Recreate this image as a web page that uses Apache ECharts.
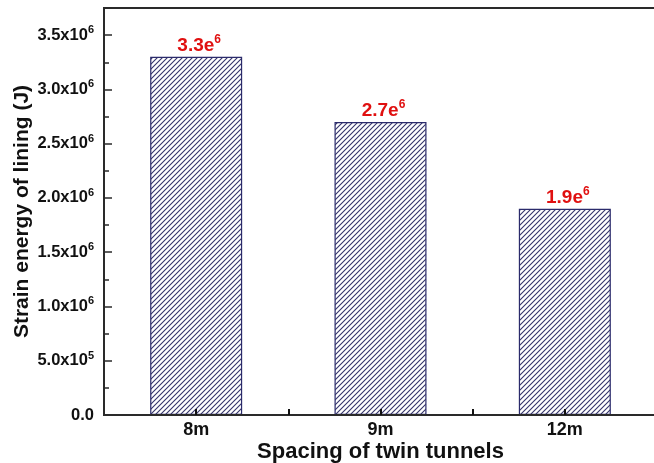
<!DOCTYPE html>
<html>
<head>
<meta charset="utf-8">
<script src="https://cdn.jsdelivr.net/npm/echarts@6/dist/echarts.min.js"></script>
<style>html,body{margin:0;padding:0;background:#fff;}#c{width:654px;height:463px;}</style>
</head>
<body>
<div id="c"></div>
<script>
const categories = ['8m', '9m', '12m'];
const values = [3.3e6, 2.7e6, 1.9e6];
const barLabels = ['3.3', '2.7', '1.9'];
const barLabelExp = '6';
const yTickLabels = {
  0: ['0.0', ''],
  500000: ['5.0x10', '5'],
  1000000: ['1.0x10', '6'],
  1500000: ['1.5x10', '6'],
  2000000: ['2.0x10', '6'],
  2500000: ['2.5x10', '6'],
  3000000: ['3.0x10', '6'],
  3500000: ['3.5x10', '6']
};

// hatch pattern
const tile = document.createElement('canvas');
tile.width = 5; tile.height = 5;
const g = tile.getContext('2d');
g.fillStyle = '#ffffff'; g.fillRect(0, 0, 5, 5);
g.strokeStyle = '#34346a'; g.lineWidth = 1.1;
g.beginPath();
g.moveTo(0, 5); g.lineTo(5, 0);
g.moveTo(-1, 1); g.lineTo(1, -1);
g.moveTo(4, 6); g.lineTo(6, 4);
g.stroke();

const chart = echarts.init(document.getElementById('c'), null, {renderer: 'canvas'});
const font = 'Liberation Sans, Arial, sans-serif';
chart.setOption({
  animation: false,
  grid: {left: 104, right: -3, top: 8, bottom: 48, outerBoundsMode: 'none', containLabel: false,
         show: true, borderColor: '#2a2a2a', borderWidth: 2, backgroundColor: 'transparent'},
  xAxis: {
    type: 'value', min: 0.5, max: 3.5, interval: 0.5, z: 10, zlevel: 1,
    name: 'Spacing of twin tunnels', nameLocation: 'middle', nameGap: 26, nameMoveOverlap: false,
    nameTextStyle: {fontFamily: font, fontWeight: 'bold', fontSize: 22, color: '#111'},
    axisLine: {show: true, lineStyle: {color: '#2a2a2a', width: 2}},
    axisTick: {show: true, inside: true, length: 6, lineStyle: {color: '#111', width: 2}},
    splitLine: {show: false},
    axisLabel: {
      fontFamily: font, fontWeight: 'bold', fontSize: 18, color: '#111', margin: 6,
      showMinLabel: false, showMaxLabel: false,
      formatter: function (v) {
        const i = Math.round(v) - 1;
        return (Math.abs(v - Math.round(v)) < 1e-6 && categories[i]) ? categories[i] : '';
      }
    }
  },
  yAxis: {
    type: 'value', min: 0, max: 3750000, interval: 500000,
    name: 'Strain energy of lining (J)', nameLocation: 'middle', nameGap: 71, nameMoveOverlap: false,
    nameTextStyle: {fontFamily: font, fontWeight: 'bold', fontSize: 21, color: '#111'},
    axisLine: {show: true, lineStyle: {color: '#2a2a2a', width: 2}},
    axisTick: {show: true, inside: true, length: 8, lineStyle: {color: '#2a2a2a', width: 1.5}},
    minorTick: {show: true, splitNumber: 2, length: 5, lineStyle: {color: '#2a2a2a', width: 1.5}},
    splitLine: {show: false},
    axisLabel: {
      margin: 10, showMaxLabel: false,
      formatter: function (v) {
        const t = yTickLabels[Math.round(v)];
        if (!t) return '';
        return t[1] ? '{b|' + t[0] + '}{s|' + t[1] + '}' : '{b|' + t[0] + '}';
      },
      rich: {
        b: {fontFamily: font, fontWeight: 'bold', fontSize: 16.5, color: '#111'},
        s: {fontFamily: font, fontWeight: 'bold', fontSize: 11, color: '#111', verticalAlign: 'bottom', padding: [0, 0, 10, 0]}
      }
    }
  },
  series: [{
    type: 'bar',
    z: 1,
    barWidth: 92,
    data: values.map(function (v, i) { return [i + 1, v]; }),
    itemStyle: {color: {image: tile, repeat: 'repeat'}, borderColor: '#2b2b6b', borderWidth: 1.2},
    label: {
      show: true, position: 'top', distance: 0, offset: [3, 0],
      formatter: function (p) { return '{b|' + barLabels[p.dataIndex] + 'e}{s|' + barLabelExp + '}'; },
      rich: {
        b: {fontFamily: font, fontWeight: 'bold', fontSize: 19, color: '#e01010'},
        s: {fontFamily: font, fontWeight: 'bold', fontSize: 12, color: '#e01010', verticalAlign: 'bottom', padding: [0, 0, 11, 0]}
      }
    }
  }]
});
</script>
</body>
</html>
